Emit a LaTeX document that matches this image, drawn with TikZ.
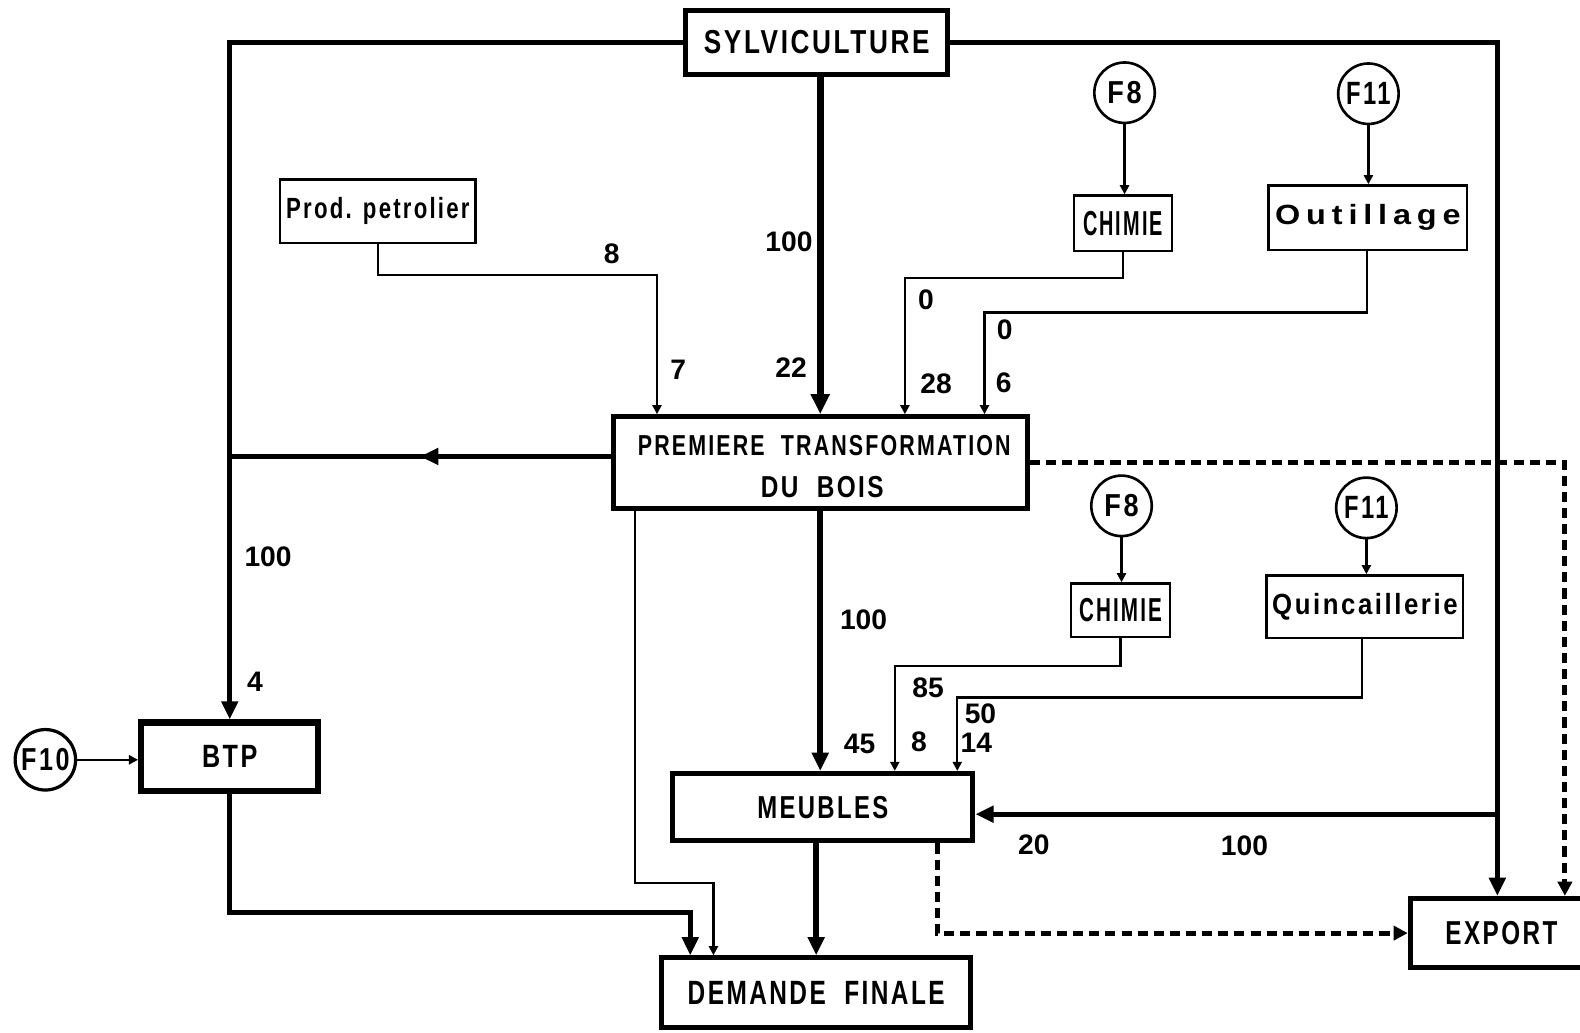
\documentclass[tikz,border=0pt]{standalone}
\usepackage{fontspec}
\setmainfont{Liberation Sans}
\newfontfamily\capsfont{Liberation Sans}[LetterSpace=10]
\usepackage{graphicx}
\usetikzlibrary{arrows.meta,decorations.markings}
\newcommand\lbl[3]{\resizebox{#1}{#2}{\capsfont\bfseries #3}}
\begin{document}
\begin{tikzpicture}[x=0.5pt,y=-0.5pt,
  bigbox/.style={draw, line width=2.5pt, inner sep=0pt},
  smallbox/.style={draw, line width=1.2pt, inner sep=0pt},
  circ/.style={draw, circle, line width=1.3pt, minimum size=30pt, inner sep=0pt},
  num/.style={font=\fontsize{14}{16}\selectfont\bfseries, inner sep=0pt},
  thickl/.style={line width=2.5pt},
  vthick/.style={line width=3.5pt},
  thinl/.style={line width=1.1pt},
  dashl/.style={line width=2.4pt, dash pattern=on 5pt off 3pt},
  bigtip/.style={-{Triangle[length=9pt,width=8pt]}},
  smalltip/.style={-{Triangle[length=4.5pt,width=4.5pt]}}
]
\useasboundingbox (0,0) rectangle (1568,1025);

% boxes
\node[bigbox, minimum width=130pt, minimum height=31.5pt] (SYL) at (810.5,42) {\lbl{112pt}{11.5pt}{SYLVICULTURE}};
\node[smallbox, minimum width=97pt, minimum height=31.5pt] (PROD) at (375,209.5) {\lbl{91pt}{10.5pt}{Prod. petrolier}};
\node[smallbox, minimum width=48.5pt, minimum height=27.5pt] (CH1) at (1114.5,221.5) {\lbl{39.5pt}{12pt}{CHIMIE}};
\node[smallbox, minimum width=98.5pt, minimum height=32pt] (OUT) at (1357.5,216) {\lbl{92pt}{10pt}{\addfontfeature{LetterSpace=18}Outillage}};
\node[bigbox, minimum width=205.5pt, minimum height=45.5pt] (PTB) at (814,459) {};
\node[inner sep=0pt] (PTBa) at (818,442) {\lbl{185pt}{10pt}{PREMIERE\ \ TRANSFORMATION}};
\node[inner sep=0pt] (PTBb) at (816,483) {\lbl{61pt}{10.5pt}{DU\ \ BOIS}};
\node[smallbox, minimum width=49pt, minimum height=26.5pt] (CH2) at (1112,605.5) {\lbl{41pt}{11.5pt}{CHIMIE}};
\node[smallbox, minimum width=97.5pt, minimum height=31pt] (QU) at (1354.5,602) {\lbl{92pt}{10.5pt}{Quincaillerie}};
\node[bigbox, line width=3pt, minimum width=88pt, minimum height=34pt] (BTP) at (228,751) {\lbl{27.5pt}{11pt}{BTP}};
\node[bigbox, minimum width=149pt, minimum height=33.5pt] (MEUB) at (816.5,801) {\lbl{65pt}{11pt}{MEUBLES}};
\node[bigbox, minimum width=153.5pt, minimum height=34.5pt] (DF) at (810,985) {\lbl{127.5pt}{11.5pt}{DEMANDE\ \ FINALE}};
\node[bigbox, minimum width=90.5pt, minimum height=34.5pt] (EXP) at (1490,926) {\lbl{55.5pt}{11.5pt}{EXPORT}};

% circles
\node[circ] (F8a) at (1116,92) {\lbl{17pt}{11pt}{F8}};
\node[circ] (F11a) at (1358,93) {\lbl{22pt}{11pt}{F11}};
\node[circ] (F8b) at (1113,502) {\lbl{17pt}{11pt}{F8}};
\node[circ] (F11b) at (1356,504) {\lbl{22pt}{11pt}{F11}};
\node[circ, line width=1.6pt] (F10) at (45,754) {\lbl{24pt}{11pt}{F10}};

% connectors
\draw[thickl,bigtip] (SYL.west) -| (BTP.north);
\draw[thickl,bigtip] (SYL.east) -| ([xshift=-2pt]EXP.north);
\coordinate (j1) at (1486,808);
\draw[thickl,bigtip] (j1) -- (j1 -| MEUB.east);
\draw[vthick,-{Triangle[length=10pt,width=9pt]}] (PTB.north |- SYL.south) -- (PTB.north);
\draw[thinl,smalltip] (PROD.south) -- ++(0,31) -| ([xshift=23pt]PTB.north west);
\draw[thinl,smalltip] (F8a) -- (F8a |- CH1.north);
\draw[thinl,smalltip] (CH1.south) -- ++(0,26) -| ([xshift=146pt]PTB.north west);
\draw[thinl,smalltip] (F11a) -- (F11a |- OUT.north);
\draw[thinl,smalltip] ([xshift=-0.5pt]OUT.south) -- ++(0,61) -| ([xshift=185.5pt]PTB.north west);
\draw[thickl, postaction={decorate}, decoration={markings, mark=at position 0.5 with {\arrow{Triangle[length=9pt,width=8pt]}}}]
  ([yshift=3pt]PTB.west) -- ([yshift=3pt]PTB.west -| BTP.north);
\draw[dashl,-{Triangle[length=7pt,width=7pt]}] (PTB.east) -| ([xshift=31.5pt]EXP.north);
\draw[thickl,line width=3pt,bigtip] (PTB.south) -- (PTB.south |- MEUB.north);
\coordinate (k) at (708,876);
\draw[thinl,smalltip] ([xshift=12pt]PTB.south west) |- (k) -- (k |- DF.north);
\draw[thinl,smalltip] (F8b) -- (F8b |- CH2.north);
\draw[thinl,smalltip] (CH2.south) -- ++(0,28) -| ([xshift=111.5pt]MEUB.north west);
\draw[thinl,smalltip] (F11b) -- (F11b |- QU.north);
\draw[thinl,smalltip] ([xshift=-1.5pt]QU.south) -- ++(0,58) -| ([xshift=142.5pt]MEUB.north west);
\draw[thinl,smalltip] (F10) -- (F10 -| BTP.west);
\draw[thickl,bigtip] (BTP.south) -- ++(0,118) -| ([xshift=15.5pt]DF.north west);
\draw[thickl,line width=3pt,bigtip] (DF.north |- MEUB.south) -- (DF.north);
\draw[dashl,-{Triangle[length=7pt,width=7pt]}] ([xshift=132.5pt]MEUB.south west) |- (EXP.west);

% numbers
\node[num] (n1) at (266,553) {100};
\node[num] (n2) at (253,677) {4};
\node[num] (n3) at (783,240) {100};
\node[num] (n4) at (785,365) {22};
\node[num] (n5) at (607,252) {8};
\node[num] (n6) at (673,367) {7};
\node[num] (n7) at (919,297) {0};
\node[num] (n8) at (929,381) {28};
\node[num] (n9) at (997,327) {0};
\node[num] (n10) at (996,380) {6};
\node[num] (n11) at (857,615) {100};
\node[num] (n12) at (853,738) {45};
\node[num] (n13) at (921,683) {85};
\node[num] (n14) at (912,736) {8};
\node[num] (n15) at (973,708) {50};
\node[num] (n16) at (969,737) {14};
\node[num] (n17) at (1026,838) {20};
\node[num] (n18) at (1235,839) {100};
\end{tikzpicture}
\end{document}
